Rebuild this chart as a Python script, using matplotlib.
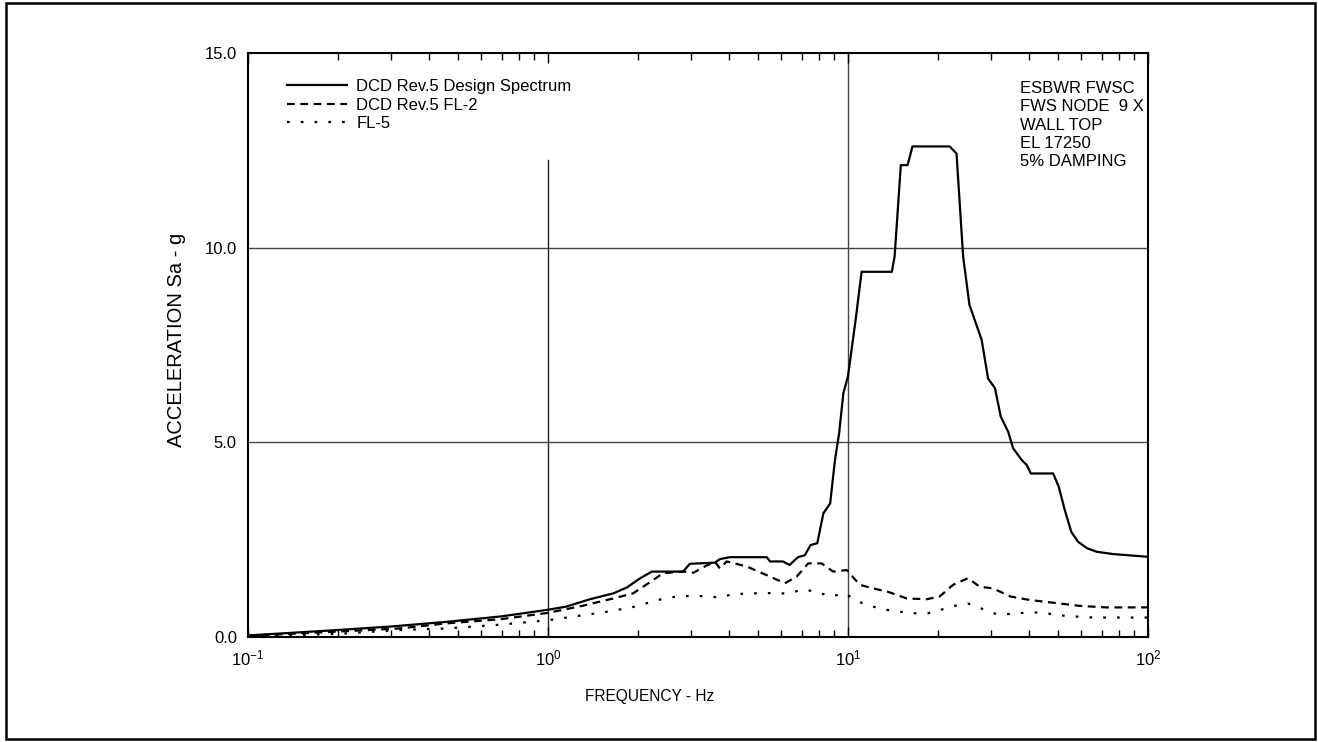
import matplotlib
matplotlib.use('Agg')
import matplotlib.pyplot as plt
from matplotlib.patches import Rectangle

plt.rcParams['font.family'] = ['Liberation Sans', 'DejaVu Sans']
plt.rcParams['mathtext.fontset'] = 'custom'
plt.rcParams['mathtext.rm'] = 'Liberation Sans'
plt.rcParams['mathtext.it'] = 'Liberation Sans'
plt.rcParams['axes.unicode_minus'] = False

# Design spectrum (solid)
freq_design = [0.1, 0.2, 0.3, 0.46, 0.7, 1.0, 1.15, 1.38, 1.65, 1.83, 2.03, 2.22, 2.82, 2.97,
               3.6, 3.74, 4.04, 5.36, 5.5, 6.07, 6.39, 6.81, 7.18, 7.5, 7.9, 8.28, 8.72, 9.05,
               9.34, 9.65, 10.0, 10.6, 11.1, 14.0, 14.3, 15.0, 15.8, 16.4, 21.8, 23.0, 24.2,
               25.4, 27.9, 29.3, 30.9, 32.3, 34.2, 35.5, 37.9, 39.4, 40.7, 48.3, 50.4, 52.8,
               55.5, 58.4, 62.6, 67.5, 76.5, 100.0]
acc_design = [0.04, 0.18, 0.27, 0.39, 0.53, 0.70, 0.78, 0.97, 1.12, 1.27, 1.51, 1.68, 1.68, 1.88,
              1.91, 2.0, 2.05, 2.05, 1.94, 1.94, 1.85, 2.05, 2.1, 2.36, 2.41, 3.18, 3.43, 4.55,
              5.23, 6.26, 6.70, 8.14, 9.38, 9.38, 9.77, 12.12, 12.12, 12.6, 12.6, 12.42, 9.77,
              8.53, 7.63, 6.64, 6.39, 5.66, 5.27, 4.85, 4.55, 4.42, 4.2, 4.2, 3.86, 3.26,
              2.70, 2.45, 2.28, 2.19, 2.13, 2.06]

# FL-2 (dashed)
freq_fl2 = [0.1, 0.2, 0.32, 0.46, 0.7, 1.0, 1.3, 1.65, 1.92, 2.16, 2.42, 2.82, 3.05, 3.33, 3.6,
            3.74, 3.94, 4.14, 4.6, 5.03, 5.5, 6.16, 6.74, 7.37, 8.17, 8.92, 9.9, 10.95, 12.1,
            13.6, 15.7, 18.3, 20.2, 22.4, 25.1, 27.5, 30.4, 34.8, 40.4, 48.4, 59.2, 72.6, 100.0]
acc_fl2 = [0.03, 0.14, 0.22, 0.35, 0.46, 0.62, 0.80, 0.99, 1.12, 1.38, 1.64, 1.68, 1.65, 1.81,
           1.94, 1.76, 1.94, 1.9, 1.81, 1.68, 1.55, 1.38, 1.55, 1.89, 1.89, 1.68, 1.72, 1.34,
           1.25, 1.16, 0.99, 0.97, 1.04, 1.34, 1.51, 1.29, 1.25, 1.04, 0.95, 0.88, 0.80, 0.76,
           0.76]

# FL-5 (dotted)
freq_fl5 = [0.1, 0.2, 0.32, 0.46, 0.7, 1.0, 1.31, 1.61, 1.98, 2.22, 2.45, 2.75, 3.38, 3.74, 4.2,
            4.65, 5.15, 5.7, 6.32, 7.1, 7.87, 8.72, 9.77, 10.8, 12.1, 13.8, 16.5, 18.5, 20.2,
            22.7, 25.1, 28.1, 31.2, 34.8, 38.4, 43.6, 53.4, 65.7, 100.0]
acc_fl5 = [0.02, 0.08, 0.18, 0.22, 0.32, 0.43, 0.56, 0.66, 0.79, 0.91, 0.99, 1.05, 1.05, 1.01,
           1.12, 1.1, 1.14, 1.12, 1.12, 1.22, 1.16, 1.04, 1.12, 0.91, 0.78, 0.68, 0.61, 0.61,
           0.69, 0.8, 0.86, 0.72, 0.59, 0.59, 0.62, 0.63, 0.54, 0.5, 0.5]

series_labels = ['DCD Rev.5 Design Spectrum', 'DCD Rev.5 FL-2', 'FL-5']
note_lines = ['ESBWR FWSC', 'FWS NODE  9 X', 'WALL TOP', 'EL 17250', '5% DAMPING']
y_ticks = [0.0, 5.0, 10.0, 15.0]

fig = plt.figure(figsize=(13.18, 7.42), dpi=100)
ax = fig.add_axes([248 / 1318, 105 / 742, 900 / 1318, 584 / 742])

# grid lines drawn by hand (the one at 1 Hz stops below the legend)
for yv in [5.0, 10.0]:
    ax.axhline(yv, color='#444444', lw=1.0, zorder=1)
ax.axvline(10.0, color='#444444', lw=1.0, zorder=1)
ax.axvline(1.0, ymax=12.25 / 15.0, color='#222222', lw=1.0, zorder=1)

ax.plot(freq_design, acc_design, color='black', lw=1.6, label=series_labels[0], zorder=3)
ax.plot(freq_fl2, acc_fl2, color='black', lw=1.6, dashes=(3.5, 2.5), label=series_labels[1], zorder=3)
ax.plot(freq_fl5, acc_fl5, color='black', lw=1.6, dashes=(1.2, 5.0), label=series_labels[2], zorder=3)

ax.set_xscale('log')
ax.set_xlim(0.1, 100)
ax.set_ylim(0, 15)
ax.set_yticks(y_ticks)
ax.set_yticklabels(['%.1f' % v for v in y_ticks])
ax.tick_params(axis='y', length=0, pad=8, labelsize=12)
ax.tick_params(axis='x', which='major', direction='in', top=True, length=7, width=1,
               labelsize=12, pad=8)
ax.tick_params(axis='x', which='minor', direction='in', top=True, length=5, width=1)
for sp in ax.spines.values():
    sp.set_linewidth(1.5)

leg = ax.legend(loc='upper left', bbox_to_anchor=(0.036, 0.967), frameon=False,
                fontsize=12, handlelength=3.6, handletextpad=0.55, labelspacing=0.22,
                borderaxespad=0)

ax.text(0.858, 0.952, '\n'.join(note_lines), transform=ax.transAxes, fontsize=12,
        va='top', ha='left', linespacing=1.28)

fig.text(650 / 1318, 1 - 696 / 742, 'FREQUENCY - Hz', ha='center', va='center', fontsize=11.2)
fig.text(177 / 1318, 1 - 340 / 742, 'ACCELERATION Sa - g', ha='center', va='center',
         rotation=90, fontsize=14.5, family=['Liberation Sans Narrow', 'Liberation Sans'])

# border around the whole figure
fig.patches.append(Rectangle((6 / 1318, 3 / 742), 1309 / 1318, 736 / 742, transform=fig.transFigure,
                             fill=False, edgecolor='black', lw=1.8))

fig.savefig('out.png', dpi=100)
